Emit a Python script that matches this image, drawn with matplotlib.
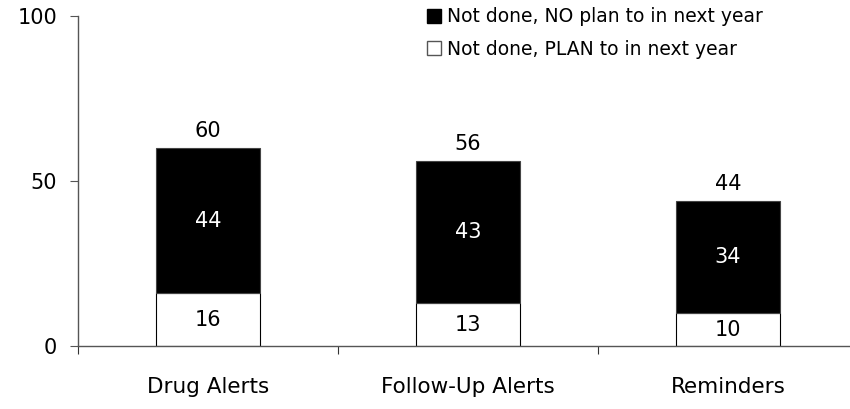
import numpy as np
import matplotlib.pyplot as plt
from matplotlib.lines import Line2D

# Data
categories = ['Drug Alerts', 'Follow-Up Alerts', 'Reminders']
plan = [16, 13, 10]        # Not done, PLAN to in next year
no_plan = [44, 43, 34]     # Not done, NO plan to in next year
totals = [60, 56, 44]

fig = plt.figure(figsize=(8.5, 4.09), dpi=100)
ax = fig.add_axes([78/850, 63/409, 780/850, 330/409])

x = np.arange(len(categories))
w = 0.4
ax.bar(x, plan, w, color='white', edgecolor='black', linewidth=0.8)
ax.bar(x, no_plan, w, bottom=plan, color='black', edgecolor='#444444', linewidth=0.8)

for i in range(len(categories)):
    ax.text(x[i], plan[i]/2, str(plan[i]), ha='center', va='center', fontsize=15, color='black')
    ax.text(x[i], plan[i] + no_plan[i]/2, str(no_plan[i]), ha='center', va='center', fontsize=15, color='white')
    ax.annotate(str(totals[i]), (x[i], totals[i]), xytext=(0, 5), textcoords='offset points',
                ha='center', va='bottom', fontsize=15)

ax.set_xlim(-0.5, 2.5)
ax.set_ylim(0, 100)
ax.set_yticks([0, 50, 100])
ax.tick_params(axis='y', length=6, width=0.8, colors='#555555', labelcolor='black', labelsize=15, pad=9)

ax.set_xticks(x)
ax.set_xticklabels(categories, fontsize=15.5)
ax.set_xticks([-0.5, 0.5, 1.5, 2.5], minor=True)
ax.tick_params(axis='x', which='major', length=0, pad=22)
ax.tick_params(axis='x', which='minor', length=6, width=0.8, colors='#333333')

for s in ['top', 'right']:
    ax.spines[s].set_visible(False)
for s in ['left', 'bottom']:
    ax.spines[s].set_color('#555555')
    ax.spines[s].set_linewidth(1)

handles = [Line2D([], [], marker='s', linestyle='none', markersize=10,
                  markerfacecolor='black', markeredgecolor='black'),
           Line2D([], [], marker='s', linestyle='none', markersize=10,
                  markerfacecolor='white', markeredgecolor='#555555')]
labels = ['Not done, NO plan to in next year', 'Not done, PLAN to in next year']
fig.legend(handles, labels, loc='upper left', bbox_to_anchor=(420/850, 1.0), frameon=False,
           fontsize=13.5, handlelength=0.7, handletextpad=0.35, labelspacing=0.72, borderaxespad=0)

fig.savefig('out.png', dpi=100)
